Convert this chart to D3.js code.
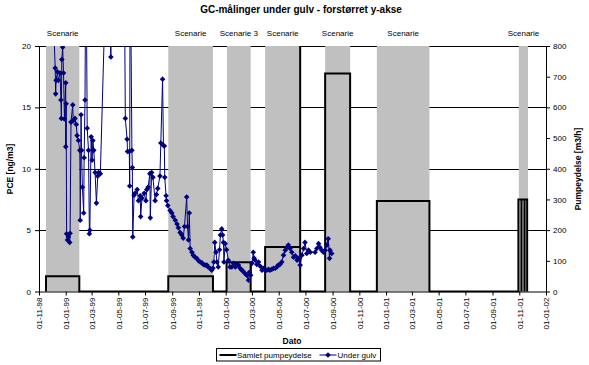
<!DOCTYPE html>
<html>
<head>
<meta charset="utf-8">
<script src="https://cdnjs.cloudflare.com/ajax/libs/d3/7.8.5/d3.min.js"></script>
<style>
    body { margin: 0; background: #fff; }
    svg text { font-family: "Liberation Sans", Arial, sans-serif; fill: #000; }
</style>
</head>
<body>
<div id="chart"></div>
<script>

// Under gulv (PCE, ng/m3) - values above 20 fall outside the plot
var gulvDates = [
    "1998-12-02","1998-12-08","1998-12-09","1998-12-10","1998-12-13","1998-12-15","1998-12-19","1998-12-21",
    "1998-12-22","1998-12-23","1998-12-25","1998-12-27","1998-12-29","1999-01-01","1999-01-01","1999-01-02",
    "1999-01-03","1999-01-05","1999-01-07","1999-01-10","1999-01-11","1999-01-13","1999-01-17","1999-01-18",
    "1999-01-22","1999-01-25","1999-01-27","1999-01-30","1999-02-02","1999-02-03","1999-02-05","1999-02-06",
    "1999-02-08","1999-02-11","1999-02-12","1999-02-14","1999-02-16","1999-02-19","1999-02-22","1999-02-24",
    "1999-02-25","1999-02-28","1999-03-02","1999-03-04","1999-03-06","1999-03-09","1999-03-12","1999-03-15",
    "1999-03-17","1999-03-21","1999-04-06","1999-04-14","1999-04-17","1999-05-15","1999-05-17","1999-05-21",
    "1999-05-22","1999-05-26","1999-05-27","1999-05-28","1999-06-01","1999-06-02","1999-06-03","1999-06-06",
    "1999-06-08","1999-06-13","1999-06-16","1999-06-20","1999-06-21","1999-06-24","1999-06-29","1999-07-03",
    "1999-07-05","1999-07-08","1999-07-12","1999-07-13","1999-07-16","1999-07-19","1999-07-24","1999-07-27",
    "1999-07-30","1999-08-04","1999-08-06","1999-08-10","1999-08-12","1999-08-14","1999-08-15","1999-08-18",
    "1999-08-19","1999-08-22","1999-08-27","1999-08-31","1999-09-03","1999-09-08","1999-09-12","1999-09-15",
    "1999-09-19","1999-09-23","1999-09-26","1999-09-29","1999-10-04","1999-10-06","1999-10-08","1999-10-10",
    "1999-10-12","1999-10-16","1999-10-19","1999-10-23","1999-10-27","1999-10-31","1999-11-04","1999-11-08",
    "1999-11-11","1999-11-15","1999-11-19","1999-11-22","1999-11-26","1999-11-30","1999-12-03","1999-12-05",
    "1999-12-07","1999-12-10","1999-12-12","1999-12-15","1999-12-18","1999-12-20","1999-12-23","1999-12-25",
    "1999-12-27","1999-12-28","1999-12-31","2000-01-03","2000-01-07","2000-01-11","2000-01-15","2000-01-19",
    "2000-01-23","2000-01-26","2000-01-30","2000-02-03","2000-02-07","2000-02-10","2000-02-14","2000-02-18",
    "2000-02-22","2000-02-24","2000-02-27","2000-03-01","2000-03-04","2000-03-06","2000-03-08","2000-03-12",
    "2000-03-16","2000-03-20","2000-03-24","2000-03-27","2000-03-31","2000-04-04","2000-04-08","2000-04-11",
    "2000-04-15","2000-04-19","2000-04-23","2000-04-27","2000-04-30","2000-05-04","2000-05-08","2000-05-12",
    "2000-05-16","2000-05-20","2000-05-23","2000-05-27","2000-05-31","2000-06-04","2000-06-08","2000-06-12",
    "2000-06-15","2000-06-19","2000-06-23","2000-06-27","2000-06-30","2000-07-04","2000-07-08","2000-07-12",
    "2000-07-23","2000-07-27","2000-07-31","2000-08-03","2000-08-07","2000-08-11","2000-08-15","2000-08-19",
    "2000-08-22","2000-08-25","2000-08-26","2000-08-30"
];
var gulvValues = [
    24, 18.2, 16.1, 17.2, 17.9, 17.2, 17.8, 15.6,
    14.1, 18.9, 19.9, 17.8, 14.05, 17.0, 11.8, 15.3,
    4.7, 4.2, 4.45, 4.0, 4.75, 13.8, 15.2, 13.9,
    14.1, 13.6, 12.7, 12.3, 11.5, 5.8, 14.4, 11.5,
    8.5, 6.4, 10.9, 15.6, 30, 13.3, 11.5, 4.7,
    5.0, 12.6, 10.7, 12.3, 11.5, 9.7, 7.2, 9.4,
    9.7, 9.6, 30, 19.1, 30, 25, 14.1, 12.4,
    11.4, 11.4, 8.6, 30, 11.5, 10.1, 4.45, 7.85,
    8.0, 8.3, 7.4, 7.8, 6.1, 7.6, 8.0, 7.4,
    8.3, 8.5, 9.6, 6.0, 9.7, 9.3, 7.4, 7.9,
    8.4, 9.4, 12.1, 17.3, 11.9, 11.85, 9.3, 7.8,
    7.4, 7.0, 6.6, 6.4, 6.1, 5.8, 5.5, 5.2,
    4.8, 4.6, 4.35, 5.3, 7.7, 5.3, 4.2, 6.4,
    3.5, 3.2, 2.96, 2.8, 2.7, 2.5, 2.4, 2.33,
    2.2, 2.15, 2.15, 2.0, 1.9, 1.74, 1.9, 2.4,
    4.0, 3.2, 2.4, 2.0, 3.4, 4.6, 5.1, 4.6,
    4.0, 2.4, 3.9, 3.4, 2.55, 2.0, 2.0, 2.3,
    2.0, 2.15, 2.15, 1.9, 1.74, 1.65, 1.47, 1.33,
    0.92, 1.57, 1.33, 2.3, 3.2, 2.7, 2.55, 2.2,
    2.4, 2.06, 1.74, 1.9, 1.74, 1.74, 1.8, 1.74,
    1.8, 1.88, 1.9, 2.0, 2.15, 2.2, 2.4, 2.96,
    3.37, 3.6, 3.78, 3.5, 3.2, 2.8, 2.9, 2.55,
    2.7, 2.15, 2.96, 3.5, 4.0, 3.1, 3.37, 3.2,
    3.2, 3.5, 3.9, 3.6, 3.37, 3.2, 3.37, 3.78,
    4.3, 2.7, 3.37, 3.1
];

// Samlet pumpeydelse (m3/h)
var pumpDates = [
    "1998-11-17","1998-11-17","1999-02-01","1999-02-01",
    "1999-08-23","1999-08-23","1999-12-03","1999-12-03",
    "2000-01-03","2000-01-03","2000-02-27","2000-02-27",
    "2000-03-31","2000-03-31","2000-06-19","2000-06-19","2000-06-19",
    "2000-08-15","2000-08-15","2000-10-11","2000-10-11",
    "2000-12-11","2000-12-11","2001-04-10","2001-04-10",
    "2001-10-30","2001-10-30","2001-11-06","2001-11-06","2001-11-06",
    "2001-11-13","2001-11-13","2001-11-13","2001-11-19","2001-11-19"
];
var pumpValues = [
    0, 50, 50, 0,
    0, 50, 50, 0,
    0, 95, 95, 0,
    0, 145, 145, 900, 0,
    0, 710, 710, 0,
    0, 295, 295, 0,
    0, 300, 300, 0, 300,
    300, 0, 300, 300, 0
];

// Scenarie periods (grey bands)
var scenarioLabels = ["Scenarie", "Scenarie", "Scenarie 3", "Scenarie", "Scenarie", "Scenarie", "Scenarie"];
var scenarioStarts = ["1998-11-17", "1999-08-23", "2000-01-04", "2000-03-31", "2000-08-15", "2000-12-11", "2001-10-31"];
var scenarioEnds   = ["1999-02-01", "1999-12-03", "2000-02-27", "2000-06-19", "2000-10-11", "2001-04-10", "2001-11-21"];

var leftTicks = [0, 5, 10, 15, 20];
var rightTicks = [0, 100, 200, 300, 400, 500, 600, 700, 800];


GcChart = function (_parentElement) {
    this.parentElement = _parentElement;
    this.initVis();
};

GcChart.prototype.initVis = function () {
    var vis = this;
    var parseDate = d3.timeParse("%Y-%m-%d");

    vis.margin = { top: 46, right: 43, bottom: 73.5, left: 39 };
    vis.width = 589 - vis.margin.left - vis.margin.right;
    vis.height = 365 - vis.margin.top - vis.margin.bottom;

    vis.root = d3.select("#" + vis.parentElement).append("svg")
        .attr("width", 589)
        .attr("height", 365);

    vis.svg = vis.root.append("g")
        .attr("transform", `translate(${vis.margin.left},${vis.margin.top})`);

    vis.gulv = gulvDates.map((d, i) => ({ date: parseDate(d), value: gulvValues[i] }));
    vis.pump = pumpDates.map((d, i) => ({ date: parseDate(d), value: pumpValues[i] }));
    vis.scenarios = scenarioLabels.map((l, i) => ({
        label: l, start: parseDate(scenarioStarts[i]), end: parseDate(scenarioEnds[i])
    }));

    // scales
    vis.x = d3.scaleTime()
        .domain([new Date(1998, 10, 1), new Date(2002, 0, 1)])
        .range([0, vis.width]);
    vis.y = d3.scaleLinear().domain([0, 20]).range([vis.height, 0]);
    vis.y2 = d3.scaleLinear().domain([0, 800]).range([vis.height, 0]);

    vis.svg.append("clipPath").attr("id", "plotClip")
        .append("rect")
        .attr("x", -1).attr("y", 0)
        .attr("width", vis.width + 2).attr("height", vis.height + 1);

    // gridlines
    vis.svg.append("g")
        .selectAll("line")
        .data(leftTicks.slice(1))
        .enter()
        .append("line")
        .attr("x1", 0).attr("x2", vis.width)
        .attr("y1", d => Math.round(vis.y(d)) + 0.5)
        .attr("y2", d => Math.round(vis.y(d)) + 0.5)
        .attr("stroke", "#000");

    // grey scenario bands
    vis.svg.append("g")
        .selectAll("rect")
        .data(vis.scenarios)
        .enter()
        .append("rect")
        .attr("x", d => vis.x(d.start))
        .attr("width", d => vis.x(d.end) - vis.x(d.start))
        .attr("y", vis.y2(800))
        .attr("height", vis.y2(0) - vis.y2(800))
        .attr("fill", "#c0c0c0");

    vis.svg.append("g")
        .selectAll("text")
        .data(vis.scenarios)
        .enter()
        .append("text")
        .attr("x", d => (vis.x(d.start) + vis.x(d.end)) / 2)
        .attr("y", -10.5)
        .attr("text-anchor", "middle")
        .attr("font-size", "8px")
        .text(d => d.label);

    // axes
    var xAxis = d3.axisBottom(vis.x)
        .ticks(d3.timeMonth.every(2))
        .tickFormat(d3.timeFormat("%d-%m-%y"))
        .tickSize(4)
        .tickSizeOuter(0);

    var gx = vis.svg.append("g")
        .attr("transform", `translate(0,${vis.height})`)
        .call(xAxis);
    gx.selectAll("text")
        .attr("transform", "rotate(-90)")
        .attr("x", -6)
        .attr("y", 0)
        .attr("dy", "0.35em")
        .attr("text-anchor", "end")
        .attr("font-size", "8px");

    var gy = vis.svg.append("g")
        .call(d3.axisLeft(vis.y).tickValues(leftTicks).tickSize(4).tickPadding(4).tickSizeOuter(0));
    gy.selectAll("text").attr("font-size", "8px");

    var gy2 = vis.svg.append("g")
        .attr("transform", `translate(${vis.width},0)`)
        .call(d3.axisRight(vis.y2).tickValues(rightTicks).tickSize(4).tickPadding(3).tickSizeOuter(0));
    gy2.selectAll("text").attr("font-size", "8px");

    vis.root.selectAll(".domain, .tick line").attr("stroke", "#000");

    // pumping line
    var pumpLine = d3.line()
        .x(d => vis.x(d.date))
        .y(d => vis.y2(d.value));

    vis.svg.append("path")
        .datum(vis.pump)
        .attr("clip-path", "url(#plotClip)")
        .attr("d", pumpLine)
        .attr("fill", "none")
        .attr("stroke", "#000")
        .attr("stroke-width", 2);

    // PCE under gulv
    var gulvLine = d3.line()
        .x(d => vis.x(d.date))
        .y(d => vis.y(d.value));

    var gulvG = vis.svg.append("g").attr("clip-path", "url(#plotClip)");

    gulvG.append("path")
        .datum(vis.gulv)
        .attr("d", gulvLine)
        .attr("fill", "none")
        .attr("stroke", "#000080")
        .attr("stroke-width", 1);

    gulvG.selectAll("path.marker")
        .data(vis.gulv.filter(d => d.value <= 20))
        .enter()
        .append("path")
        .attr("class", "marker")
        .attr("d", "M0,-2.8L2.8,0L0,2.8L-2.8,0Z")
        .attr("transform", d => `translate(${vis.x(d.date)},${vis.y(d.value)})`)
        .attr("fill", "#000080");

    // titles
    vis.root.append("text")
        .attr("x", 301).attr("y", 13)
        .attr("text-anchor", "middle")
        .attr("font-size", "10px")
        .attr("font-weight", "bold")
        .text("GC-målinger under gulv - forstørret y-akse");

    vis.root.append("text")
        .attr("transform", "translate(13,169) rotate(-90)")
        .attr("text-anchor", "middle")
        .attr("font-size", "8.5px")
        .attr("font-weight", "bold")
        .text("PCE [ng/m3]");

    vis.root.append("text")
        .attr("transform", "translate(581,169) rotate(-90)")
        .attr("text-anchor", "middle")
        .attr("font-size", "8.5px")
        .attr("font-weight", "bold")
        .text("Pumpeydelse [m3/h]");

    vis.root.append("text")
        .attr("x", 292).attr("y", 344)
        .attr("text-anchor", "middle")
        .attr("font-size", "8.5px")
        .attr("font-weight", "bold")
        .text("Dato");

    // legend
    var legend = vis.root.append("g").attr("transform", "translate(216.5,348.5)");
    legend.append("rect")
        .attr("width", 164).attr("height", 12.5)
        .attr("fill", "#fff").attr("stroke", "#000");

    legend.append("line")
        .attr("x1", 3).attr("x2", 20).attr("y1", 6.5).attr("y2", 6.5)
        .attr("stroke", "#000").attr("stroke-width", 2);
    legend.append("text")
        .attr("x", 20.5).attr("y", 9.5)
        .attr("font-size", "8px")
        .text("Samlet pumpeydelse");

    legend.append("line")
        .attr("x1", 103).attr("x2", 120).attr("y1", 6.5).attr("y2", 6.5)
        .attr("stroke", "#000080");
    legend.append("path")
        .attr("d", "M0,-2.8L2.8,0L0,2.8L-2.8,0Z")
        .attr("transform", "translate(111.5,6.5)")
        .attr("fill", "#000080");
    legend.append("text")
        .attr("x", 121).attr("y", 9.5)
        .attr("font-size", "8px")
        .text("Under gulv");
};

new GcChart("chart");
</script>
</body>
</html>
